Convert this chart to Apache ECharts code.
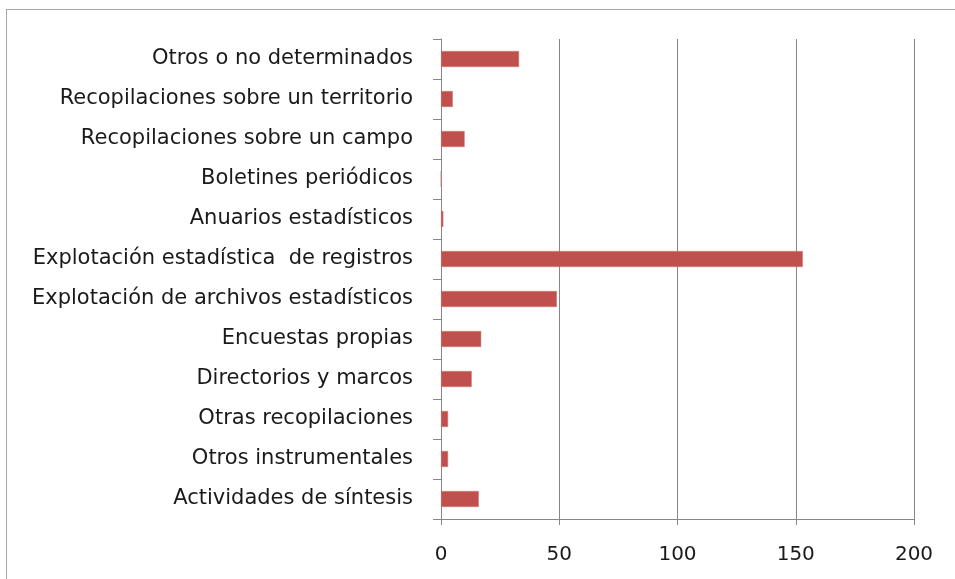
<!DOCTYPE html>
<html><head><meta charset="utf-8">
<script src="https://cdn.jsdelivr.net/npm/echarts@6/dist/echarts.min.js"></script>
<style>html,body{margin:0;padding:0;background:#fff;}#frame{position:absolute;left:6px;top:9px;width:1000px;height:600px;border:1px solid #a6a6a6;box-sizing:border-box;}#c{position:absolute;left:0;top:0;width:955px;height:579px;}</style>
</head><body><div id="frame"></div><div id="c"></div>
<script>
const categories = ["Otros o no determinados","Recopilaciones sobre un territorio","Recopilaciones sobre un campo","Boletines periódicos","Anuarios estadísticos","Explotación estadística  de registros","Explotación de archivos estadísticos","Encuestas propias","Directorios y marcos","Otras recopilaciones","Otros instrumentales","Actividades de síntesis"];
const values = [33,5,10,0,1,153,49,17,13,3,3,16];
const xTicks = [0,50,100,150,200];
const chart = echarts.init(document.getElementById('c'), null, {renderer:'canvas'});
chart.setOption({
  animation:false,
  grid:{left:441,right:41,top:39,bottom:60,containLabel:false},
  xAxis:{type:'value',min:xTicks[0],max:xTicks[xTicks.length-1],interval:xTicks[1]-xTicks[0],
    axisLine:{show:true,lineStyle:{color:'#868686',width:1}},
    axisTick:{show:true,length:6,lineStyle:{color:'#868686'}},
    splitLine:{show:true,lineStyle:{color:'#868686',width:1}},
    axisLabel:{margin:26,color:'#1a1a1a',fontFamily:'DejaVu Sans',fontSize:20}},
  yAxis:{type:'category',data:categories,inverse:true,
    axisLine:{show:true,lineStyle:{color:'#868686',width:1}},
    axisTick:{show:true,length:8,lineStyle:{color:'#868686'}},
    axisLabel:{margin:28,color:'#1a1a1a',fontFamily:'DejaVu Sans',fontSize:21}},
  series:[{type:'bar',data:values,barWidth:16,itemStyle:{color:'#c0504d',borderColor:'#d07f7d',borderWidth:0.5}}]
});
</script></body></html>
